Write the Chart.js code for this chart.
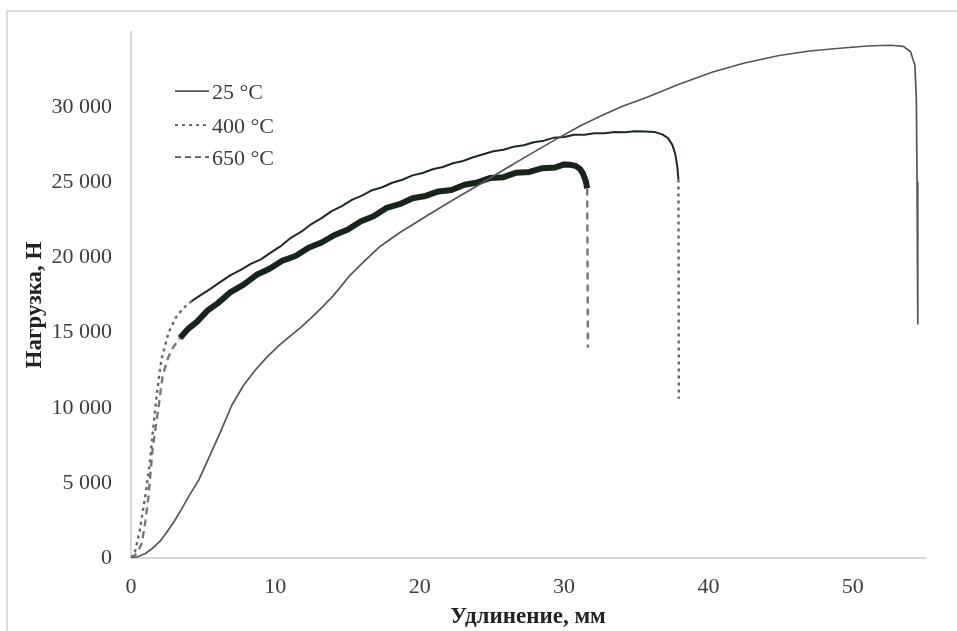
<!DOCTYPE html>
<html lang="ru">
<head>
<meta charset="UTF-8" />
<title>Нагрузка – удлинение</title>
<script src="https://cdn.jsdelivr.net/npm/chart.js@4.4.1/dist/chart.umd.min.js"></script>
<style>
  html, body { margin: 0; padding: 0; background: #fff; }
  #wrap { width: 957px; height: 631px; }
</style>
</head>
<body>
<div id="wrap"><canvas id="chart" width="957" height="631"></canvas></div>
<script>
  // подписи и деления осей
  const seriesNames = ['25 °C', '400 °C', '650 °C'];
  const xTicks = [0, 10, 20, 30, 40, 50];
  const yTicks = [0, 5000, 10000, 15000, 20000, 25000, 30000];

  // 25 °C
  const elong25 = [0, 0.5, 1, 1.5, 2, 2.5, 3, 3.5, 4, 4.7, 5.5, 6.2, 7.0, 7.8, 8.6, 9.4, 10.2, 11.0, 11.7, 12.5,
    13.3, 14.0, 15.2, 16.2, 17.2, 18.6, 20.7, 22.5, 24.2, 26.0, 27.6, 29.4, 31.1, 32.5, 34.0, 35.7, 38.0, 40.3,
    42.5, 44.9, 47.0, 49.1, 51.0, 52.6, 53.5, 54.0, 54.3, 54.4, 54.45, 54.5];
  const load25 = [0, 100, 300, 650, 1100, 1750, 2450, 3250, 4100, 5200, 6900, 8400, 10200, 11500, 12500, 13350,
    14100, 14750, 15300, 16000, 16750, 17450, 18850, 19800, 20700, 21650, 22900, 23950, 24900, 25950, 26850,
    27850, 28750, 29400, 30050, 30650, 31550, 32350, 32950, 33450, 33750, 33930, 34080, 34130, 34060, 33700,
    32800, 30600, 25000, 15600];

  // 400 °C
  const elong400 = [0, 0.3, 0.6, 1.0, 1.3, 1.5, 1.8, 2.1, 2.6, 3.1, 3.6, 4.2, 4.8, 5.5, 6.2, 6.9, 7.6, 8.3, 9.0,
    9.7, 10.4, 11.1, 11.8, 12.5, 13.2, 13.9, 14.6, 15.3, 16.0, 16.7, 17.4, 18.1, 18.8, 19.5, 20.2, 20.9, 21.6,
    22.3, 23.0, 23.7, 24.4, 25.1, 25.8, 26.5, 27.2, 27.9, 28.6, 29.3, 30.0, 30.7, 31.4, 32.1, 32.8, 33.5, 34.2,
    34.9, 35.6, 36.3, 36.8, 37.2, 37.5, 37.7, 37.85, 37.92, 37.95];
  const load400 = [0, 500, 1800, 4200, 6300, 8300, 11000, 13200, 15000, 16000, 16600, 17100, 17480, 17920, 18380,
    18830, 19180, 19580, 19880, 20340, 20780, 21330, 21720, 22230, 22620, 23090, 23420, 23840, 24120, 24480,
    24680, 24980, 25180, 25470, 25630, 25880, 26030, 26280, 26430, 26680, 26880, 27080, 27180, 27380, 27480,
    27680, 27780, 27980, 28030, 28180, 28170, 28280, 28270, 28360, 28340, 28400, 28390, 28350, 28200, 27950,
    27500, 26900, 26000, 25200, 10600];

  // 650 °C
  const elong650 = [0, 0.4, 0.76, 1.0, 1.2, 1.5, 1.9, 2.2, 2.6, 2.9, 3.4, 3.9, 4.6, 5.3, 6.0, 6.9, 7.8, 8.7, 9.6,
    10.5, 11.4, 12.3, 13.2, 14.1, 15.0, 15.9, 16.8, 17.7, 18.6, 19.5, 20.4, 21.3, 22.2, 23.1, 24.0, 24.9, 25.8,
    26.7, 27.6, 28.5, 29.4, 30.0, 30.4, 30.8, 31.1, 31.3, 31.5, 31.6, 31.65];
  const load650 = [0, 300, 1000, 2500, 4000, 7300, 10000, 12200, 13400, 14000, 14650, 15200, 15750, 16480, 16950,
    17700, 18200, 18850, 19250, 19800, 20100, 20650, 21000, 21500, 21850, 22400, 22750, 23300, 23550, 23950,
    24100, 24400, 24500, 24850, 25000, 25300, 25350, 25650, 25700, 25950, 26000, 26200, 26180, 26100, 25900,
    25600, 25100, 24600, 14000];

  const serif = '"Liberation Serif", "Times New Roman", serif';
  const toPoints = (xs, ys) => xs.map((x, i) => ({ x: x, y: ys[i] }));
  const spaced = (v) => String(v).replace(/\B(?=(\d{3})+(?!\d))/g, ' ');

  // пунктир на подъёме и на обрыве, сплошная толстая линия на "шумном" участке
  const isDrop = (ctx) => ctx.p0.parsed.y - ctx.p1.parsed.y > 5000;
  const dashedPart = (limit) => (ctx) => ctx.p1.parsed.x <= limit || isDrop(ctx);

  // рамка области диаграммы (как в Excel)
  const framePlugin = {
    id: 'frame',
    beforeDraw(chart) {
      const c = chart.ctx;
      c.save();
      c.strokeStyle = '#cfcfcf';
      c.lineWidth = 1.5;
      c.beginPath();
      c.moveTo(7, chart.height);
      c.lineTo(7, 11);
      c.lineTo(chart.width, 11);
      c.stroke();
      c.restore();
    }
  };

  // подпись оси Y (чуть ниже центра оси, как в оригинале)
  const yTitlePlugin = {
    id: 'yTitle',
    afterDraw(chart) {
      const c = chart.ctx;
      c.save();
      c.translate(35, 305);
      c.rotate(-Math.PI / 2);
      c.fillStyle = '#222';
      c.font = 'bold 23px ' + serif;
      c.textAlign = 'center';
      c.textBaseline = 'middle';
      c.fillText('Нагрузка, Н', 0, 0);
      c.restore();
    }
  };

  // легенда внутри графика, слева сверху
  const legendPlugin = {
    id: 'innerLegend',
    afterDatasetsDraw(chart) {
      const c = chart.ctx;
      const area = chart.chartArea;
      const rows = [59, 93, 125];
      const dashes = [[], [3, 4], [6, 4]];
      c.save();
      chart.data.datasets.forEach((ds, i) => {
        const y = area.top + rows[i];
        c.beginPath();
        c.setLineDash(dashes[i]);
        c.strokeStyle = '#555';
        c.lineWidth = 1.8;
        c.moveTo(area.left + 44, y);
        c.lineTo(area.left + 78, y);
        c.stroke();
        c.setLineDash([]);
        c.fillStyle = '#3d3d3d';
        c.font = '22px ' + serif;
        c.textBaseline = 'middle';
        c.fillText(ds.label, area.left + 81, y + 2);
      });
      c.restore();
    }
  };

  const ctx = document.getElementById('chart').getContext('2d');
  const chart = new Chart(ctx, {
    type: 'line',
    data: {
      datasets: [
        {
          label: seriesNames[0],
          data: toPoints(elong25, load25),
          borderColor: '#555',
          borderWidth: 1.7
        },
        {
          label: seriesNames[1],
          data: toPoints(elong400, load400),
          borderColor: '#666',
          borderWidth: 2.4,
          borderDash: [3, 4],
          segment: {
            borderDash: (c) => dashedPart(4.2)(c) ? undefined : [],
            borderColor: (c) => dashedPart(4.2)(c) ? undefined : '#1f2a22',
            borderWidth: (c) => dashedPart(4.2)(c) ? undefined : 2
          }
        },
        {
          label: seriesNames[2],
          data: toPoints(elong650, load650),
          borderColor: '#777',
          borderWidth: 2.4,
          borderDash: [7, 5],
          segment: {
            borderDash: (c) => dashedPart(3.4)(c) ? undefined : [],
            borderColor: (c) => dashedPart(3.4)(c) ? undefined : '#17241b',
            borderWidth: (c) => dashedPart(3.4)(c) ? undefined : 6
          }
        }
      ]
    },
    options: {
      responsive: false,
      animation: false,
      devicePixelRatio: 1,
      elements: {
        point: { radius: 0 },
        line: { tension: 0, borderJoinStyle: 'round', borderCapStyle: 'butt' }
      },
      layout: { padding: { top: 32, right: 32, bottom: 0, left: 0 } },
      plugins: {
        legend: { display: false },
        tooltip: { enabled: false }
      },
      scales: {
        x: {
          type: 'linear',
          min: 0,
          max: 55,
          grid: { display: false, drawTicks: false },
          border: { display: true, color: '#d6d6d6', width: 2 },
          afterBuildTicks: (s) => { s.ticks = xTicks.map((v) => ({ value: v })); },
          afterFit: (s) => { s.height = 73; },
          ticks: {
            padding: 16,
            color: '#3d3d3d',
            font: { family: serif, size: 22 },
            maxRotation: 0
          },
          title: {
            display: true,
            text: 'Удлинение, мм',
            color: '#222',
            font: { family: serif, size: 23, weight: 'bold' },
            padding: { top: 0, bottom: 0 }
          }
        },
        y: {
          min: 0,
          max: 35000,
          grid: { display: false, drawTicks: false },
          border: { display: true, color: '#d6d6d6', width: 2 },
          afterBuildTicks: (s) => { s.ticks = yTicks.map((v) => ({ value: v })); },
          afterFit: (s) => { s.width = 131; },
          ticks: {
            padding: 19,
            color: '#3d3d3d',
            font: { family: serif, size: 22 },
            callback: (v) => spaced(v)
          }
        }
      }
    },
    plugins: [framePlugin, legendPlugin, yTitlePlugin]
  });
</script>
</body>
</html>
